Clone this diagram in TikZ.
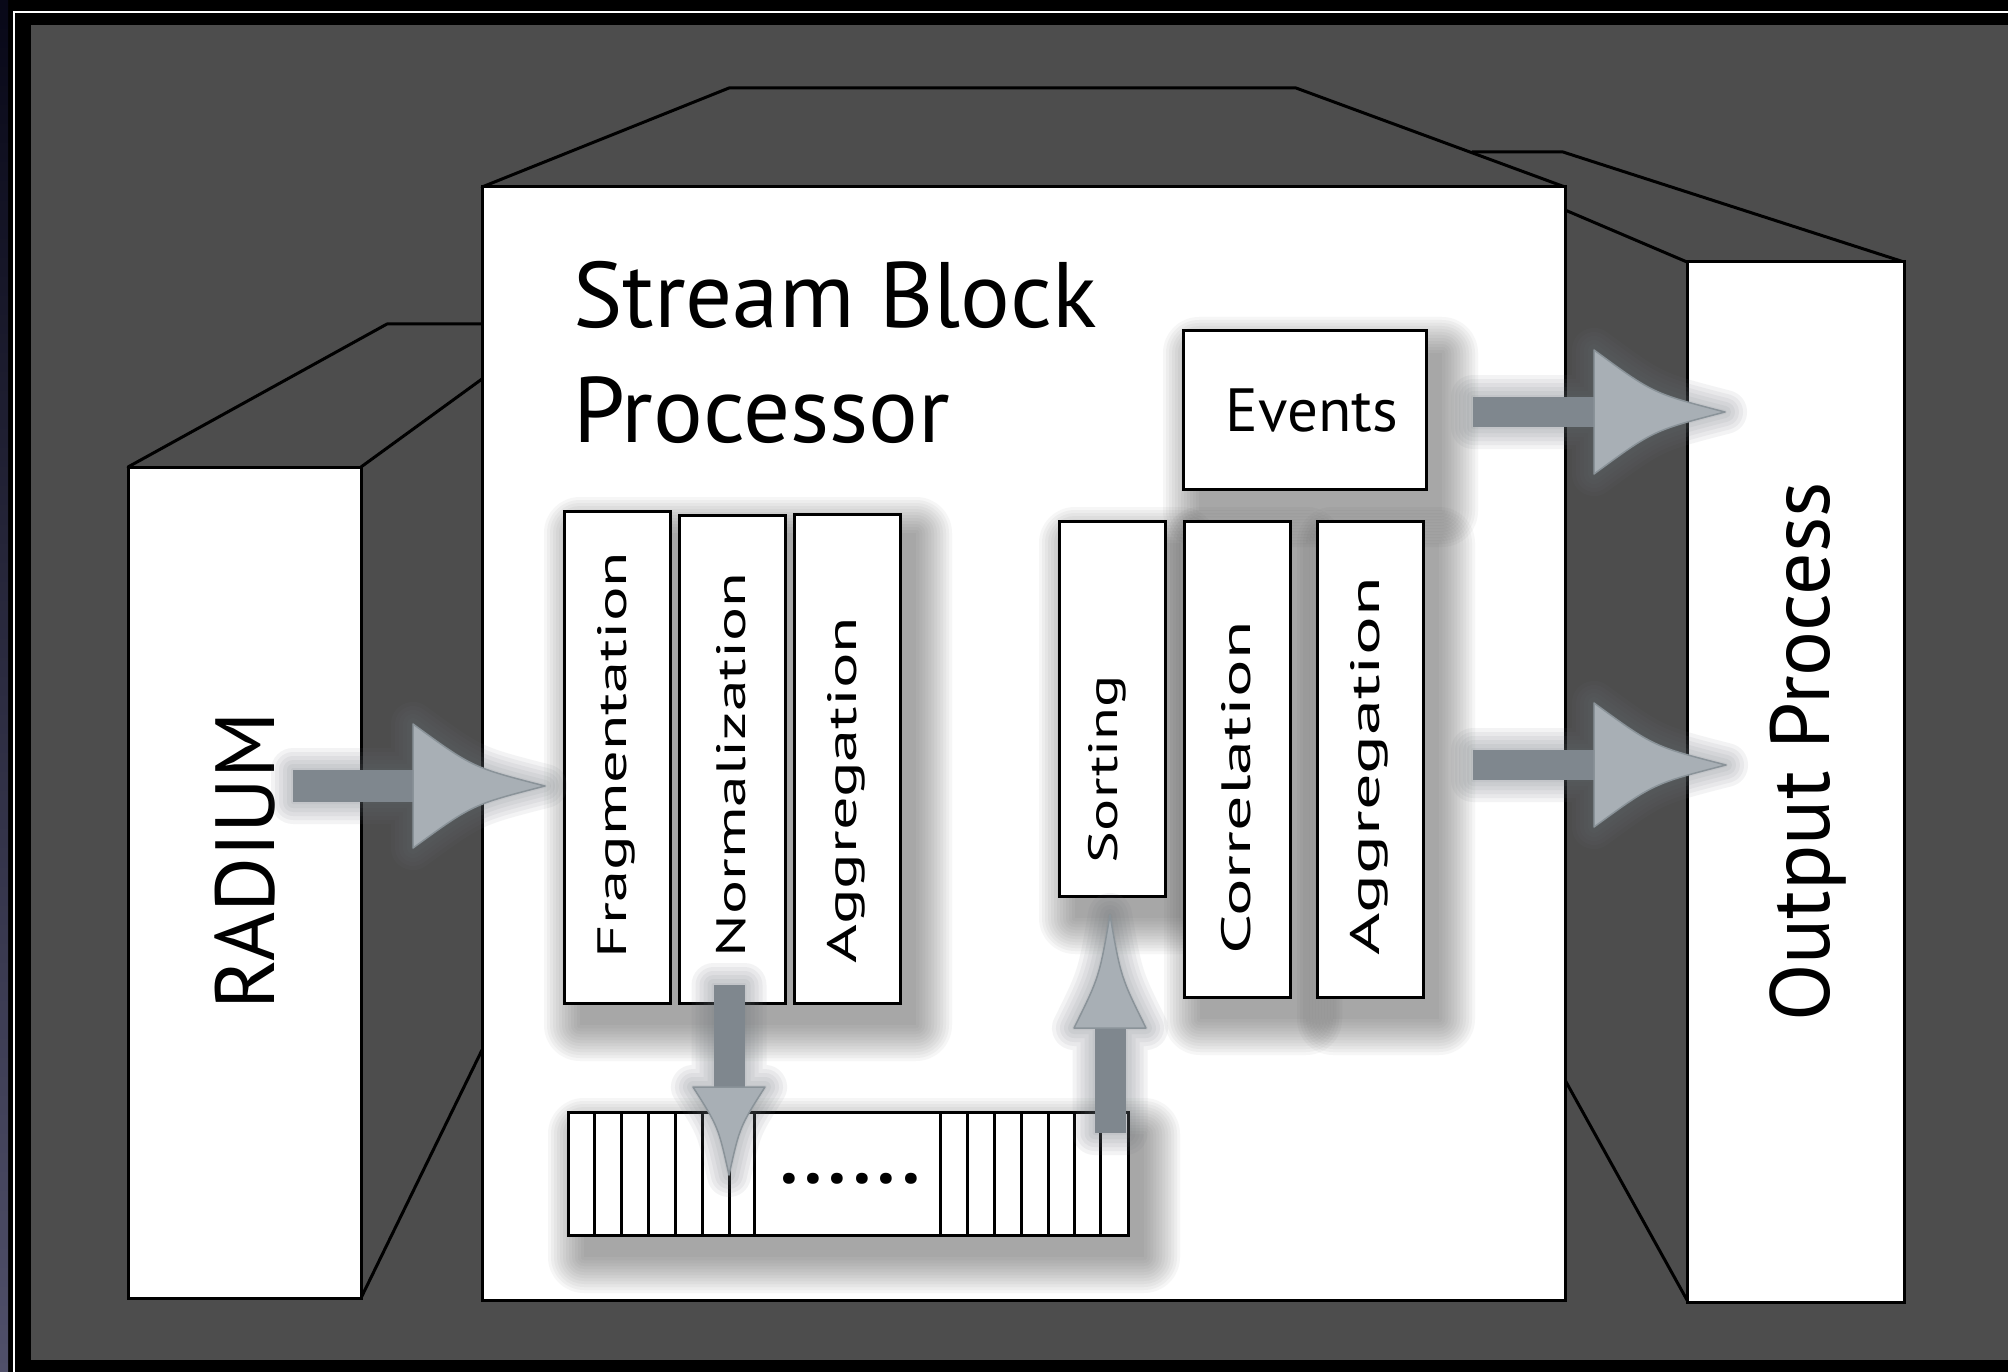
\documentclass[tikz,border=0pt]{standalone}
\usepackage{fontspec}
\setmainfont{PT Sans}
\usepackage{graphicx}
\definecolor{bggray}{HTML}{4D4D4D}
\definecolor{shaftcol}{HTML}{7F878E}
\definecolor{headcol}{HTML}{A8AFB5}
\definecolor{headline}{HTML}{8A9399}
\definecolor{shcol}{HTML}{6A7278}
\definecolor{boxsh}{HTML}{555555}
\definecolor{navydark}{HTML}{080818}
\definecolor{navylight}{HTML}{50506A}

% soft shadow of a rectangle (x1,y1)-(x2,y2), offset right/down
\newcommand\softrect[4]{%
  \foreach \e in {0,3,...,36}{%
    \fill[boxsh,opacity=0.05,rounded corners=\e pt]
      ({#1+16-\e},{#2+22-\e}) rectangle ({#3+16+\e},{#4+22+\e});}}

% block arrow: #1 origin, #2 angle, #3 shaft length, #4 head length, #5 shaft half width, #6 head half height
\newcommand\arrowshadow[6]{%
  \foreach \w in {44,36,...,0}{%
    \begin{scope}[shift={(8,22)},transparency group,opacity=0.08]
      \begin{scope}[shift={#1},rotate=#2]
        \filldraw[shcol,line width=\w pt,line join=round]
          (0,-#5) -- (#3,-#5) -- (#3,-#6)
          .. controls ({#3+0.45*#4},{-0.3*#6}) .. ({#3+#4},0)
          .. controls ({#3+0.45*#4},{0.3*#6}) .. (#3,#6) -- (#3,#5) -- (0,#5) -- cycle;
      \end{scope}
    \end{scope}}}
\newcommand\blockarrow[6]{%
  \begin{scope}[shift={#1},rotate=#2]
    \fill[shaftcol] (0,-#5) rectangle ({#3+2},#5);
    \filldraw[fill=headcol,draw=headline,line width=1.5pt,line join=round]
      (#3,-#6) .. controls ({#3+0.45*#4},{-0.3*#6}) .. ({#3+#4},0)
      .. controls ({#3+0.45*#4},{0.3*#6}) .. (#3,#6) -- cycle;
  \end{scope}}
\newcommand\dotrow{\makebox[24.4pt]{.}\makebox[24.4pt]{.}\makebox[24.4pt]{.}\makebox[24.4pt]{.}\makebox[24.4pt]{.}\makebox[24.4pt]{.}}

\begin{document}
\begin{tikzpicture}[x=1pt,y=-1pt,
  edgeln/.style={draw=black,line width=3pt,line cap=round,line join=round},
  facebox/.style={draw=black,line width=3pt,fill=white,inner sep=0pt,outer sep=0pt},
  stagebox/.style={draw=black,line width=3pt,fill=white,inner sep=0pt,outer sep=0pt,minimum width=106pt},
  stagelbl/.style={rotate=90,inner sep=0pt},
]
\useasboundingbox (0,0) rectangle (2008,1372);
% frame
\fill[black] (0,0) rectangle (2008,1372);
\shade[top color=navydark,bottom color=navylight] (0,0) rectangle (8,1372);
\fill[white] (13,11.5) rectangle (2008,13.5);
\fill[white] (13,11.5) rectangle (15,1372);
\fill[bggray] (30.5,25) rectangle (2008,1360);

% output box (3D)
\draw[edgeln] (1472,152) -- (1563,152) -- (1904,262);
\draw[edgeln] (1565,210) -- (1687,262);
\draw[edgeln] (1565,1080) -- (1687,1300);
\node[facebox,minimum width=217pt,minimum height=1040pt] (output) at (1795.5,782) {};
% radium box (3D)
\draw[edgeln] (128,467) -- (387,324) -- (482,324);
\draw[edgeln] (361,467) -- (482,379);
\draw[edgeln] (361,1298) -- (482,1050);
\node[facebox,minimum width=233pt,minimum height=831pt] (radium) at (244.5,882.5) {};
% main box (3D)
\filldraw[bggray,edgeln] (482,187) -- (729,88) -- (1296,88) -- (1565,187);
\node[facebox,minimum width=1083pt,minimum height=1113pt] (sbp) at (1023.5,743.5) {};

% texts of the big boxes
\node[anchor=base west,inner sep=0pt,font=\fontsize{93}{93}\selectfont] (title1) at (573,327) {Stream Block};
\node[anchor=base west,inner sep=0pt,font=\fontsize{93}{93}\selectfont] (title2) at (573,442) {Processor};
\node[rotate=90,inner sep=0pt,font=\fontsize{84}{84}\selectfont] (radlbl) at (245,861) {RADIUM};
\node[rotate=90,inner sep=0pt,font=\fontsize{84}{84}\selectfont] (outlbl) at (1808,752) {Output Process};

% shadows of the inner boxes
\softrect{564}{511}{900}{1003}
\softrect{1059}{521}{1165}{896}
\softrect{1184}{521}{1290}{997}
\softrect{1317}{521}{1423}{997}
\softrect{1183}{331}{1426}{489}
\softrect{568}{1112}{1128}{1235}

% stage boxes
\node[stagebox,minimum height=492pt] (frag) at (617,757) {};
\node[stagebox,minimum height=488pt] (norm) at (732,759) {};
\node[stagebox,minimum height=489pt] (aggra) at (847,758.5) {};
\node[stagebox,minimum height=375pt] (sort) at (1112,708.5) {};
\node[stagebox,minimum height=476pt] (corr) at (1237,759) {};
\node[stagebox,minimum height=476pt] (aggrb) at (1370,759) {};
\node[facebox,minimum width=243pt,minimum height=158pt] (events) at (1304.5,410) {};

\node[stagelbl] (fraglbl) at (616,755) {\resizebox{406pt}{\height}{\fontsize{41}{41}\selectfont Fragmentation}};
\node[stagelbl] (normlbl) at (731,765) {\resizebox{385pt}{\height}{\fontsize{41}{41}\selectfont Normalization}};
\node[stagelbl] (aggralbl) at (846,790) {\resizebox{346pt}{\height}{\fontsize{41}{41}\selectfont Aggregation}};
\node[stagelbl] (sortlbl) at (1107,769) {\resizebox{188pt}{\height}{\fontsize{41}{41}\selectfont Sorting}};
\node[stagelbl] (corrlbl) at (1236,788) {\resizebox{333pt}{\height}{\fontsize{41}{41}\selectfont Correlation}};
\node[stagelbl] (aggrblbl) at (1369,766) {\resizebox{378pt}{\height}{\fontsize{41}{41}\selectfont Aggregation}};
\node[anchor=base,inner sep=0pt,font=\fontsize{61}{61}\selectfont] (eventslbl) at (1312,431) {Events};

% queue
\node[facebox,minimum width=560pt,minimum height=123pt] (queue) at (848,1173.5) {};
\foreach \x in {594,621,648,675,702,729,754,940,967,994,1021,1048,1074,1100}
  \draw[line width=3pt] (\x,1112) -- (\x,1235);
\node[anchor=base,inner sep=0pt,font=\fontsize{72}{72}\selectfont\bfseries] (dots) at (850,1183) {\dotrow};

% arrows
\coordinate (inA) at (293,786);
\coordinate (outA) at (1473,412);
\coordinate (outB) at (1473,765);
\coordinate (downA) at (729,985);
\coordinate (upA) at (1110,1133);
\arrowshadow{(inA)}{0}{120}{132}{16}{62}
\arrowshadow{(outA)}{0}{121}{131}{15}{62}
\arrowshadow{(outB)}{0}{121}{132}{15}{62}
\arrowshadow{(downA)}{-90}{102}{88}{15.5}{36}
\arrowshadow{(upA)}{90}{105}{113}{15.5}{36}
\blockarrow{(inA)}{0}{120}{132}{16}{62}
\blockarrow{(outA)}{0}{121}{131}{15}{62}
\blockarrow{(outB)}{0}{121}{132}{15}{62}
\blockarrow{(downA)}{-90}{102}{88}{15.5}{36}
\blockarrow{(upA)}{90}{105}{113}{15.5}{36}
\end{tikzpicture}
\end{document}
